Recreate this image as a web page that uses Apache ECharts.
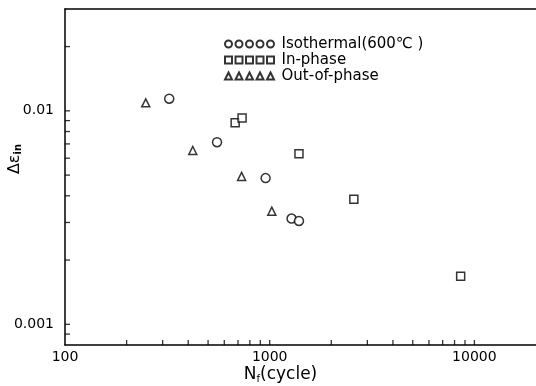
<!DOCTYPE html>
<html><head><meta charset="utf-8">
<script src="https://cdn.jsdelivr.net/npm/echarts@6/dist/echarts.min.js"></script>
<style>html,body{margin:0;padding:0;background:#fff}#c{width:536px;height:386px}</style>
</head><body><div id="c"></div>
<script>
// Isothermal (600 ℃)
const isoN = [323, 553, 955, 1279, 1390];
const isoE = [0.0114, 0.00713, 0.00484, 0.00313, 0.00305];
// In-phase
const inN = [678, 733, 1390, 2577, 8570];
const inE = [0.00879, 0.00925, 0.00629, 0.00385, 0.00168];
// Out-of-phase
const outN = [248, 421, 729, 1024];
const outE = [0.0109, 0.00652, 0.00493, 0.00339];

const xLabels = [100, 1000, 10000];
const yLabels = [0.001, 0.01];
const xTicks = [200,300,400,500,600,700,800,900,1000,2000,3000,4000,5000,6000,7000,8000,9000,10000];
const yTicks = [0.0009,0.001,0.002,0.003,0.004,0.005,0.006,0.007,0.008,0.009,0.01,0.02];
const names = ['Isothermal(600℃ )', 'In-phase', 'Out-of-phase'];

const X_MIN = 100, X_MAX = 20000, Y_MIN = 0.0008, Y_MAX = 0.03;
const FONT = '"DejaVu Sans", sans-serif';
const circ = (x) => `M${x},4 a4,4 0 1,0 8,0 a4,4 0 1,0 -8,0 `;
const sq = (x) => `M${x},0 h8 v8 h-8 Z `;
const tri = (x) => `M${x+4},0 L${x+8},8 L${x},8 Z `;
const rep = (f) => 'path://' + [0,12,24,36,48].map(f).join('');

const chart = echarts.init(document.getElementById('c'));
const mk = (name, xs, ys, sym, size) => ({
  name, type: 'scatter', symbol: sym, symbolSize: size,
  data: xs.map((x, i) => [x, ys[i]]),
  itemStyle: { color: '#fff', borderColor: '#000', borderWidth: 1.5 }
});
const tickStyle = { color: '#000', borderWidth: 0 };
chart.setOption({
  animation: false,
  backgroundColor: '#fff',
  grid: { left: 65, right: 0, top: 9, bottom: 41, containLabel: false, outerBoundsMode: 'none' },
  legend: {
    left: 219, top: 31, orient: 'vertical', itemGap: 0,
    itemWidth: 54, itemHeight: 7,
    textStyle: { fontFamily: FONT, fontSize: 15, lineHeight: 16, color: '#000', padding: [0,0,0,0] },
    data: [
      { name: names[0], icon: rep(circ) },
      { name: names[1], icon: rep(sq) },
      { name: names[2], icon: rep(tri) }
    ]
  },
  xAxis: [{
    type: 'log', min: X_MIN, max: X_MAX, logBase: 10,
    name: '{a|N}{s|f}{a|(cycle)}', nameLocation: 'middle', nameGap: 20, nameMoveOverlap: false,
    nameTextStyle: { padding: [0, 40, 0, 0], rich: {
      a: { fontFamily: FONT, fontSize: 17, color: '#000' },
      s: { fontFamily: FONT, fontSize: 10, color: '#000', verticalAlign: 'bottom', padding: [9,0,0,0] } } },
    axisLine: { show: true, onZero: false, lineStyle: { color: '#000', width: 1.5 } },
    axisTick: { show: false },
    axisLabel: { customValues: xLabels, color: '#000', fontFamily: FONT, fontSize: 14, margin: 5,
      formatter: v => String(Math.round(v)) },
    splitLine: { show: false }
  }, {
    type: 'log', min: X_MIN, max: X_MAX, position: 'top',
    axisLine: { show: true, lineStyle: { color: '#000', width: 1.5 } },
    axisTick: { show: false }, axisLabel: { show: false }, splitLine: { show: false }
  }],
  yAxis: {
    type: 'log', min: Y_MIN, max: Y_MAX, logBase: 10,
    name: '{a|Δε}{s|in}', nameLocation: 'middle', nameGap: 42, nameMoveOverlap: false,
    nameTextStyle: { padding: [0, 0, 0, 36], rich: {
      a: { fontFamily: FONT, fontSize: 16, color: '#000' },
      s: { fontFamily: FONT, fontSize: 10, fontWeight: 'bold', color: '#000', padding: [6,0,0,0] } } },
    axisLine: { show: true, onZero: false, lineStyle: { color: '#000', width: 1.5 } },
    axisTick: { show: false },
    axisLabel: { customValues: yLabels, color: '#000', fontFamily: FONT, fontSize: 14, margin: 11,
      formatter: v => String(+v.toPrecision(3)) },
    splitLine: { show: false }
  },
  series: [
    mk(names[0], isoN, isoE, 'circle', 9),
    mk(names[1], inN, inE, 'rect', 8),
    mk(names[2], outN, outE, 'triangle', 8),
    { type: 'scatter', silent: true, clip: false, symbol: 'rect', symbolSize: [1.3, 5],
      symbolOffset: [0, -2.5], itemStyle: tickStyle, data: xTicks.map(v => [v, Y_MIN]) },
    { type: 'scatter', silent: true, clip: false, symbol: 'rect', symbolSize: [5, 1.3],
      symbolOffset: [2.5, 0], itemStyle: tickStyle, data: yTicks.map(v => [X_MIN, v]) }
  ]
});
</script></body></html>
